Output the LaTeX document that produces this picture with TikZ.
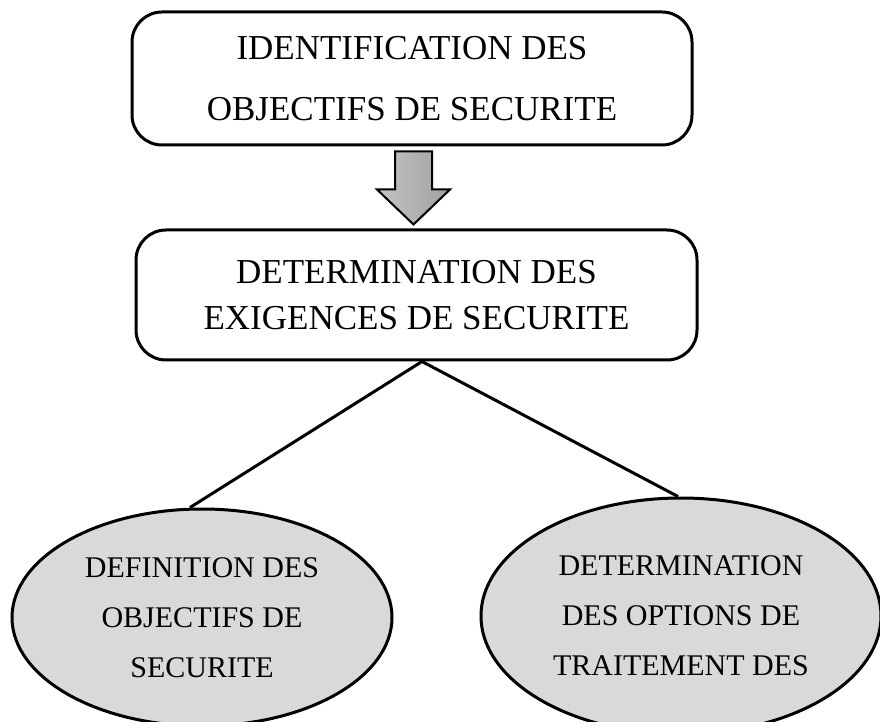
\documentclass[tikz,border=0pt]{standalone}
\usepackage{fontspec}
\setmainfont{Liberation Serif}
\usetikzlibrary{shapes.geometric, positioning, calc}
\definecolor{ovalgrey}{RGB}{217, 217, 217}
\definecolor{arrowlight}{RGB}{196, 196, 196}
\definecolor{arrowdark}{RGB}{160, 160, 160}

\begin{document}
\begin{tikzpicture}[
            stage/.style={draw=black, line width=1.5pt, rounded corners=15pt, minimum width=280pt, align=center, inner sep=0pt},
            oval/.style={ellipse, draw=black, line width=1.5pt, fill=ovalgrey, align=center, inner sep=0pt, font=\fontsize{15}{25}\selectfont},
            link/.style={line width=1.5pt, black},
            blockarrow/.style={draw=black, line width=1pt, left color=arrowlight, right color=arrowdark}
        ]
            \useasboundingbox (0,0) rectangle (440pt,-361pt);
            \node[stage, minimum height=66.5pt, font=\fontsize{17.5}{30.8}\selectfont] (ident) at (206pt,-39.25pt) {IDENTIFICATION DES\\OBJECTIFS DE SECURITE};
            \node[stage, minimum height=65pt, minimum width=280.5pt, font=\fontsize{17.5}{23}\selectfont, below=41pt of ident, xshift=2.25pt] (exig) {DETERMINATION DES\\EXIGENCES DE SECURITE};
            
            \node[oval, minimum width=190pt, minimum height=108.5pt, below=73pt of exig, xshift=-107.25pt] (defobj) {DEFINITION DES\\OBJECTIFS DE\\SECURITE};
            \node[oval, minimum width=200pt, minimum height=118pt, below=67.5pt of exig, xshift=132.25pt] (options) {DETERMINATION\\DES OPTIONS DE\\TRAITEMENT DES};
            
            % grey block arrow between the two boxes
            \draw[blockarrow] ([xshift=-8.5pt, yshift=-2.5pt]ident.south) -- ++(0,-19pt) -- ++(-9pt,0) -- ++(18.25pt,-17.5pt) -- ++(18.25pt,17.5pt) -- ++(-9pt,0) -- ++(0,19pt) -- cycle;
            
            \coordinate (split) at ([xshift=2.75pt]exig.south);
            \draw[link] (split) -- ([xshift=-6pt]defobj.north);
            \draw[link] (split) -- ([xshift=-1.5pt]options.north);
        \end{tikzpicture}
\end{document}
